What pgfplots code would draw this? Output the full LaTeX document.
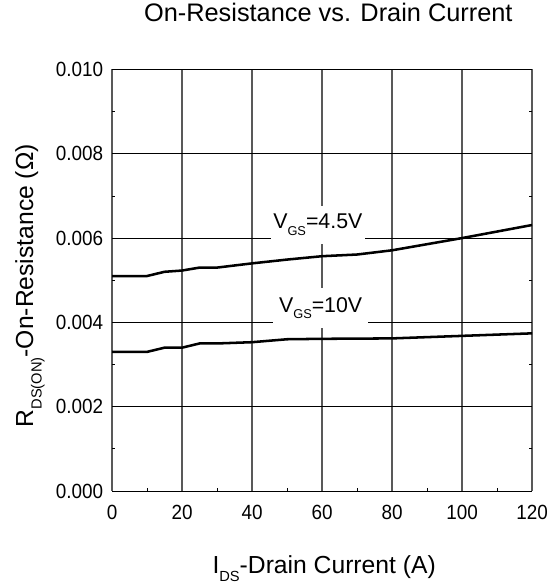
\documentclass[border=0pt]{standalone}
\usepackage{fontspec}
\setmainfont{Liberation Sans}
\newfontfamily\tickfont[FakeStretch=0.92]{Liberation Sans}
\usepackage{pgfplots}
\pgfplotsset{compat=1.18}
\begin{document}
\begin{tikzpicture}
\begin{axis}[
  at={(0,0)}, anchor=south west,
  scale only axis, width=315pt, height=316.1pt,
  xmin=0, xmax=120, ymin=0, ymax=0.010,
  xtick={0,20,40,60,80,100,120},
  ytick={0,0.002,0.004,0.006,0.008,0.010},
  yticklabels={0.000,0.002,0.004,0.006,0.008,0.010},
  scaled y ticks=false,
  minor xtick={10,30,50,70,90,110},
  minor ytick={0.001,0.003,0.005,0.007,0.009},
  xmajorgrids, ymajorgrids,
  grid style={black, line width=0.6pt},
  x grid style={black!65, line width=1.1pt},
  y grid style={black, line width=0.6pt},
  axis line style={draw=none},
  tick align=inside,
  major tick length=0pt, minor tick length=2.5pt,
  minor tick style={black, line width=0.6pt},
  xtick pos=left, ytick pos=both,
  /pgf/number format/assume math mode=true,
  tick label style={font=\tickfont\fontsize{15.4}{15.4}\selectfont, inner sep=0pt},
  xticklabel style={anchor=north, yshift=-10.5pt},
  yticklabel style={anchor=east, xshift=-6.5pt},
  title={On-Resistance vs. Drain Current},
  title style={at={(0.515,1.0955)}, anchor=base, inner sep=0pt, font=\fontsize{19}{19}\selectfont},
  xlabel={I\raisebox{-0.35em}{\fontsize{11}{11}\selectfont DS}-Drain Current (A)},
  xlabel style={at={(0.505,-0.1952)}, anchor=base, inner sep=0pt, font=\fontsize{18.5}{18.5}\selectfont},
  ylabel={R\raisebox{-0.35em}{\fontsize{11}{11}\selectfont DS(ON)}-On-Resistance (Ω)},
  ylabel style={at={(-0.1881,0.487)}, anchor=base, inner sep=0pt, font=\fontsize{18.5}{18.5}\selectfont},
]
\addplot[black, line width=1.9pt, line join=round] coordinates {
 (0,0.0051) (10,0.0051) (15,0.0052) (20,0.00523) (25,0.0053) (30,0.0053)
 (40,0.0054) (50,0.00549) (60,0.00557) (70,0.00561) (80,0.00571) (100,0.0060) (120,0.00631)};
\addplot[black, line width=1.9pt, line join=round] coordinates {
 (0,0.0033) (10,0.0033) (15,0.0034) (20,0.0034) (25,0.0035) (30,0.0035)
 (40,0.00353) (50,0.0036) (60,0.00361) (80,0.00362) (100,0.00368) (120,0.00374)};
\node[fill=white, inner sep=0pt, minimum width=70.8pt, minimum height=29pt, font=\fontsize{16}{16}\selectfont]
  at (axis cs:58.8,0.00631) {V\raisebox{-0.31em}{\fontsize{9.6}{9.6}\selectfont GS}=4.5V};
\node[fill=white, inner sep=0pt, minimum width=70.8pt, minimum height=30pt, font=\fontsize{16}{16}\selectfont]
  at (axis cs:59.6,0.00434) {V\raisebox{-0.31em}{\fontsize{9.6}{9.6}\selectfont GS}=10V};
\end{axis}
\pgfresetboundingbox
\path (-84pt,-71.25pt) rectangle (333.75pt,368.2pt);
\end{tikzpicture}
\end{document}
